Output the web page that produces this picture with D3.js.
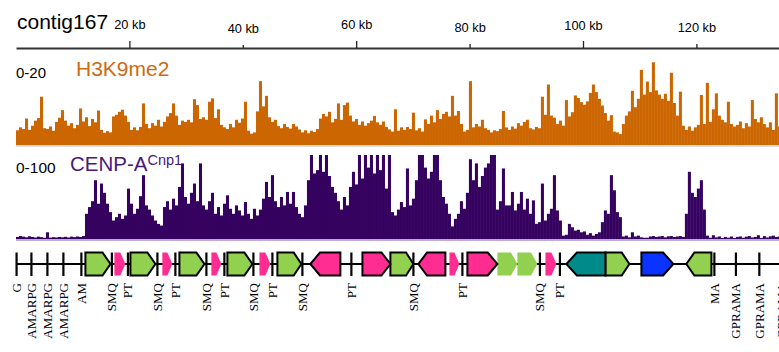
<!DOCTYPE html>
<html><head><meta charset="utf-8">
<script src="https://cdn.jsdelivr.net/npm/d3@7"></script>
<style>
html,body{margin:0;padding:0;background:#fff;}
svg{display:block;}
</style></head>
<body><svg id="chart" width="779" height="352"></svg>
<script>
// ---------- data ----------
const contigName = "contig167";
const axisTickKb = [20, 40, 60, 80, 100, 120];
const axisTickLabels = ["20 kb", "40 kb", "60 kb", "80 kb", "100 kb", "120 kb"];
const binSizeKb = 0.529;

const track1Name = "H3K9me2";
const track1Range = "0-20";
const track1Max = 20;
const h3k9me2 = [
3.5,4.2,3.8,6.3,3.6,4.6,5.8,6.4,11.5,4.0,
3.8,4.4,3.4,5.5,6.5,8.3,5.8,4.6,5.2,4.0,
4.8,8.7,5.6,6.6,4.5,6.2,5.4,8.2,3.6,2.9,
3.3,3.0,6.8,7.2,7.9,8.4,7.0,5.5,3.6,4.2,
3.5,4.3,9.9,5.0,4.0,5.2,4.6,6.0,4.4,5.5,
6.8,7.6,9.9,7.0,4.8,5.8,5.5,6.0,5.4,10.9,
9.5,6.2,6.6,6.0,10.3,11.1,6.4,8.5,4.8,4.2,
3.8,5.0,4.2,6.0,5.3,6.3,10.3,3.4,2.7,3.0,
8.0,15.2,9.2,11.7,6.6,5.5,6.0,4.5,4.0,5.0,
4.3,3.9,5.0,4.4,3.7,3.0,3.5,2.8,3.4,3.1,
3.8,6.3,7.4,6.8,7.9,5.4,6.2,9.9,6.0,9.5,
10.1,7.0,5.6,6.2,4.8,5.6,4.6,5.2,5.8,6.9,
5.4,4.8,5.6,4.3,3.7,3.2,8.5,3.4,4.2,3.6,
4.3,3.8,7.7,3.5,4.0,3.2,6.1,5.0,7.0,5.4,
8.3,6.2,7.4,7.9,6.8,11.7,7.0,8.1,5.0,3.2,
3.6,15.2,4.2,5.0,4.4,6.0,4.0,3.6,3.0,3.5,
3.3,3.8,8.1,4.2,3.6,4.4,3.9,5.2,4.6,5.5,
6.0,4.0,3.7,4.3,4.0,11.5,7.2,14.4,7.0,6.5,
5.0,5.8,4.6,10.7,6.8,7.8,11.8,11.2,10.2,9.6,
10.4,12.4,14.4,12.6,11.0,9.4,7.6,5.8,7.1,3.2,
3.0,2.6,5.0,7.0,8.0,12.9,9.0,11.0,17.9,12.0,
15.1,12.6,19.7,13.0,12.0,11.0,12.2,10.5,17.2,10.0,
7.0,12.7,4.6,3.6,4.4,3.4,4.2,4.8,11.9,5.0,
14.8,5.5,8.5,12.3,7.0,6.0,5.4,10.3,5.0,4.4,
4.8,5.6,4.0,5.2,4.4,10.7,6.2,5.4,6.6,5.0,
4.2,5.4,3.6,12.3,4.4
];

const track2Name = "CENP-A";
const track2Sup = "Cnp1";
const track2Range = "0-100";
const track2Max = 100;
const cenpA = [
2.5,3.5,2.8,2.0,3.2,2.4,1.8,2.8,2.2,1.5,
8.0,1.6,2.2,1.8,2.4,2.0,2.6,1.8,2.8,2.2,
3.0,2.4,3.5,30,38,45,70,42,66,55,
42,32,22,26,30,24,28,60,42,30,
36,51,76,40,35,28,22,18,16,38,
45,35,48,40,62,90,50,42,55,66,
45,90,40,35,45,55,30,38,28,42,
52,36,30,40,34,28,44,30,24,36,
28,35,48,68,50,76,45,38,50,40,
56,42,56,38,30,26,40,70,100,78,
82,100,80,100,75,62,55,45,35,50,
40,62,80,65,100,72,100,85,100,78,
100,82,100,60,100,32,28,35,44,38,
84,40,48,70,100,100,85,72,80,100,
100,70,50,42,30,15,24,30,45,36,
55,95,70,90,62,75,85,90,100,100,
35,45,84,40,40,56,34,42,56,35,
48,30,46,18,20,66,22,30,36,76,
34,22,4,5,18,14,10,11,8,9,
5,7,4,6,8,20,34,30,76,58,
32,26,3,4,2,8,3,4,2,1.5,
1.5,3,3.5,2.5,3,3.5,2,3.2,3.5,2.4,
3,3.5,2.5,30,80,55,50,60,70,35,
4,1.5,4.5,2,3,1.2,2.5,1.5,3,1.2,
2.5,3,1.5,2.8,3.5,1.8,2.5,4.5,1.2,3.5,
1.8,3.2,4,2.4,3
];

// feature marks (kb) with labels
const markKb = [0.1, 2.72, 5.54, 8.36, 11.53, 16.91, 19.74, 24.94, 28.11, 33.58, 36.75, 41.87, 45.22, 50.51, 59.15, 70.09, 78.73, 92.4, 95.93, 123.17, 126.97, 131.1, 135.1];
const markLabels = ["G","AMARPG","AMARPG","AMARPG","AM","SMQ","PT","SMQ","PT","SMQ","PT","SMQ","PT","SMQ","PT","SMQ","PT","SMQ","PT","MA","GPRAMA","GPRAMA","GPRAMA"];

// genes: start kb, end kb, strand, type
const geneStart = [12.24, 20.18, 28.82, 37.28, 46.1, 66.03, 103.95, 118.23, 84.9, 88.43, 17.35, 25.82, 34.46, 42.93, 76.44, 93.37, 51.92, 70.97, 61.1, 79.61, 97.07, 110.3];
const geneEnd   = [16.67, 24.59, 33.23, 41.69, 50.33, 70.09, 108.18, 122.65, 88.43, 91.96, 19.29, 27.58, 36.23, 44.87, 78.2, 95.31, 57.21, 75.73, 66.03, 84.9, 103.95, 115.94];
const geneStrand = ["+","+","+","+","+","+","+","-","+","+","+","+","+","+","+","+","-","-","+","+","-","+"];
const geneType = ["green","green","green","green","green","green","green","green","greenPlain","greenPlain","pinkPlain","pinkPlain","pinkPlain","pinkPlain","pinkPlain","pinkPlain","pink","pink","pink","pink","teal","blue"];

// ---------- styles ----------
const typeFill = {green:"#92d050", greenPlain:"#92d050", pinkPlain:"#ff2d92", pink:"#ff2d92", teal:"#008b8b", blue:"#0a33ff"};
const typeOutline = {green:true, greenPlain:false, pinkPlain:false, pink:true, teal:true, blue:true};

const svg = d3.select("#chart");
const W = 779;
const x = d3.scaleLinear().domain([0, 763/5.67]).range([16, 779]);

// ---------- title & axis ----------
svg.append("text").attr("x", 17).attr("y", 28.5)
  .attr("font-family", "Liberation Sans, Arial, sans-serif").attr("font-size", 21)
  .attr("fill", "#000").text(contigName);

const axisG = svg.append("g").attr("transform", "translate(0,48)");
axisG.call(d3.axisTop(x).tickValues(axisTickKb).tickFormat((d,i)=>axisTickLabels[i]).tickSizeOuter(0));
axisG.select(".domain").attr("stroke", "#333").attr("stroke-width", 2.2);
const tickLen = [7, 3, 7, 4, 7, 4];
const labelY = [-19.5, -15.5, -19, -16, -18.5, -16.5];
axisG.selectAll(".tick line").attr("stroke", "#222").attr("stroke-width", 1.3).attr("y2", (d,i)=>-tickLen[i]);
axisG.selectAll(".tick text").attr("y", (d,i)=>labelY[i]).attr("dy", 0)
  .attr("font-family", "Liberation Sans, Arial, sans-serif").attr("font-size", 12.8).attr("fill", "#000");

// ---------- tracks ----------
function drawTrack(values, maxV, yTop, yBot, color, baseColor) {
  const y = d3.scaleLinear().domain([0, maxV]).range([yBot, yTop]).clamp(true);
  const w = x(binSizeKb) - x(0);
  svg.append("g").selectAll("rect").data(values).join("rect")
    .attr("x", (d,i)=>x(i*binSizeKb))
    .attr("width", w + 0.05)
    .attr("y", d=>y(d))
    .attr("height", d=>yBot - y(d))
    .attr("fill", color);
  svg.append("line").attr("x1", 16).attr("x2", W).attr("y1", yBot + 1).attr("y2", yBot + 1)
    .attr("stroke", baseColor).attr("stroke-width", 1.5);
}
drawTrack(h3k9me2, track1Max, 61, 145, "#cc6600", "#d0d0d0");
drawTrack(cenpA, track2Max, 155, 239, "#360260", "#a890c8");

// track labels
svg.append("text").attr("x", 16).attr("y", 78)
  .attr("font-family", "Liberation Sans, Arial, sans-serif").attr("font-size", 15).attr("fill", "#000").text(track1Range);
svg.append("text").attr("x", 76).attr("y", 76)
  .attr("font-family", "Liberation Sans, Arial, sans-serif").attr("font-size", 21).attr("fill", "#d06a10").text(track1Name);
svg.append("text").attr("x", 16).attr("y", 172.5)
  .attr("font-family", "Liberation Sans, Arial, sans-serif").attr("font-size", 15.5).attr("fill", "#000").text(track2Range);
const cl = svg.append("text").attr("x", 70).attr("y", 171)
  .attr("font-family", "Liberation Sans, Arial, sans-serif").attr("font-size", 20.5).attr("fill", "#47197c");
cl.append("tspan").text(track2Name);
cl.append("tspan").attr("dy", -6.5).attr("font-size", 14.5).text(track2Sup);

// ---------- gene track ----------
const gy = 264, gh = 23;
svg.append("line").attr("x1", 16).attr("x2", W).attr("y1", gy).attr("y2", gy)
  .attr("stroke", "#000").attr("stroke-width", 2);

const genes = geneStart.map((s,i)=>({s, e:geneEnd[i], strand:geneStrand[i], type:geneType[i]}));
function arrowPath(g) {
  const x0 = x(g.s), x1 = x(g.e), w = x1 - x0;
  const tip = Math.min(10.5, Math.max(5, w*0.32));
  const t = gy - gh/2, b = gy + gh/2;
  if (g.strand === "+") {
    return `M${x0},${t}L${x1-tip},${t}L${x1},${gy}L${x1-tip},${b}L${x0},${b}Z`;
  } else {
    return `M${x1},${t}L${x0+tip},${t}L${x0},${gy}L${x0+tip},${b}L${x1},${b}Z`;
  }
}
svg.append("g").selectAll("path").data(genes).join("path")
  .attr("d", arrowPath)
  .attr("fill", d=>typeFill[d.type])
  .attr("stroke", d=>typeOutline[d.type] ? "#000" : "none")
  .attr("stroke-width", 2)
  .attr("stroke-linejoin", "miter");

const marks = markKb.map((k,i)=>({k, label:markLabels[i]}));
svg.append("g").selectAll("line").data(marks).join("line")
  .attr("x1", d=>x(d.k)).attr("x2", d=>x(d.k))
  .attr("y1", gy - 11.5).attr("y2", gy + 12)
  .attr("stroke", "#000").attr("stroke-width", 2.2);

svg.append("g").selectAll("text").data(marks).join("text")
  .attr("transform", d=>`translate(${x(d.k)},283) rotate(-90)`)
  .attr("text-anchor", "end")
  .attr("dy", "0.33em")
  .attr("font-family", "Liberation Serif, Times New Roman, serif")
  .attr("font-size", 13)
  .attr("fill", "#000")
  .text(d=>d.label);
</script>
</body></html>
